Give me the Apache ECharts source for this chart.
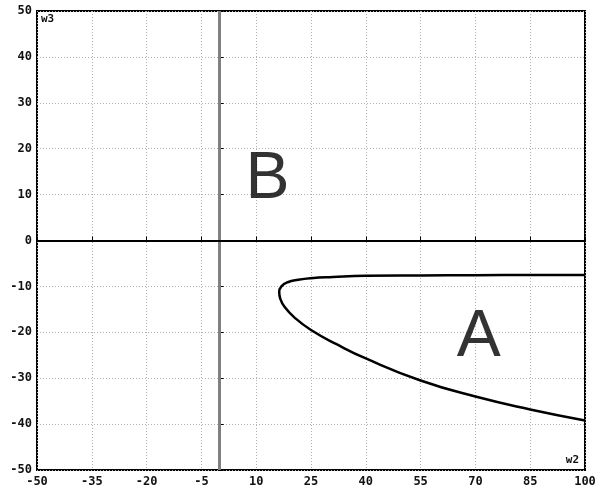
<!DOCTYPE html>
<html>
<head>
<meta charset="utf-8">
<script src="https://cdn.jsdelivr.net/npm/echarts@6/dist/echarts.min.js"></script>
<style>html,body{margin:0;padding:0;background:#fff}#c{width:600px;height:495px}</style>
</head>
<body>
<div id="c"></div>
<script>
// curve A boundary (upper branch right->vertex, then lower branch vertex->right)
var curveX = [100, 85, 70, 55, 40, 31, 25, 21.5, 18.6, 16.9, 16.3, 16.6, 17.8, 20.5, 25, 32, 40, 55, 70, 85, 100];
var curveY = [-7.5, -7.5, -7.55, -7.6, -7.7, -7.95, -8.2, -8.55, -9.1, -10.0, -11.2, -12.7, -14.5, -16.8, -19.5, -22.6, -25.7, -30.5, -34.0, -36.8, -39.2];
var xTicks = [-50, -35, -20, -5, 10, 25, 40, 55, 70, 85, 100];
var yTicks = [-50, -40, -30, -20, -10, 0, 10, 20, 30, 40, 50];
var regionLabels = ['A', 'B'];
var regionX = [70.9, 13.1];
var regionY = [-21.2, 13.2];
var xName = 'w2', yName = 'w3';

var chart = echarts.init(document.getElementById('c'), null, {renderer: 'canvas'});
var curve = curveX.map(function (x, i) { return [x, curveY[i]]; });
var tickFont = {color: '#111', fontSize: 12, fontFamily: 'DejaVu Sans Mono', fontWeight: 'bold'};
chart.setOption({
  animation: false,
  backgroundColor: '#fff',
  grid: {left: 37, right: 15, top: 11, bottom: 25, show: true, borderColor: '#000', borderWidth: 2, backgroundColor: 'transparent'},
  xAxis: {
    type: 'value', min: xTicks[0], max: xTicks[xTicks.length - 1], interval: 15,
    axisLine: {show: false},
    axisTick: {show: true, inside: true, length: 4, lineStyle: {color: '#000'}},
    axisLabel: Object.assign({margin: 6}, tickFont),
    splitLine: {show: true, lineStyle: {color: '#b0b0b0', type: [1, 2], width: 1}}
  },
  yAxis: {
    type: 'value', min: yTicks[0], max: yTicks[yTicks.length - 1], interval: 10,
    axisLine: {show: false},
    axisTick: {show: true, inside: true, length: 4, lineStyle: {color: '#000'}},
    axisLabel: Object.assign({margin: 5}, tickFont),
    splitLine: {show: true, lineStyle: {color: '#b0b0b0', type: [1, 2], width: 1}}
  },
  graphic: [
    {type: 'text', left: 41, top: 14, style: {text: yName, fill: '#111', font: 'bold 11px "DejaVu Sans Mono"'}},
    {type: 'text', right: 21, top: 455, style: {text: xName, fill: '#111', font: 'bold 11px "DejaVu Sans Mono"'}}
  ],
  series: [
    {
      type: 'line', data: curve, showSymbol: false, smooth: 0.5,
      lineStyle: {color: '#000', width: 2.5},
      markLine: {
        silent: true, symbol: 'none', label: {show: false},
        data: [
          {xAxis: 0, lineStyle: {color: '#808080', width: 3, type: 'solid'}},
          {yAxis: 0, lineStyle: {color: '#000', width: 2, type: 'solid'}}
        ]
      }
    },
    {
      type: 'scatter', symbolSize: 0, silent: true,
      data: regionLabels.map(function (t, i) { return {value: [regionX[i], regionY[i]], name: t}; }),
      label: {show: true, position: 'inside', formatter: '{b}', color: '#000', fontSize: 66, fontFamily: 'Liberation Sans'}
    }
  ]
});
</script>
</body>
</html>
